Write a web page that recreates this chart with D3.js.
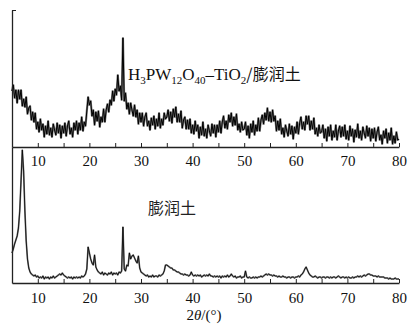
<!DOCTYPE html>
<html><head><meta charset="utf-8">
<script src="https://cdn.jsdelivr.net/npm/d3@7"></script>
<style>body{margin:0;background:#fff}svg{display:block}</style>
</head><body>
<svg id="chart" width="408" height="334"></svg>
<script>
// 2θ sampling (degrees)
const angleStart = 5, angleEnd = 80, angleStep = 0.25;
// H3PW12O40-TiO2/膨润土 intensities (a.u.), 5°..80° step 0.25°
const compositeIntensity = [
 56,62,49,57,44,57,48,57,41,48,40,50,33,39,41,27,35,25,34,18,
 25,15,28,17,23,10,21,13,26,12,19,10,23,17,12,24,14,22,9,21,
 14,24,11,21,26,13,19,10,24,17,26,13,24,17,30,16,25,21,36,50,
 42,46,31,37,22,35,26,36,20,30,25,38,25,37,43,35,47,42,56,46,
 58,52,72,56,61,47,109,46,54,38,44,33,44,37,31,42,30,37,23,34,
 25,34,21,30,34,21,26,17,29,22,31,18,28,21,34,19,28,22,34,28,
 30,37,26,35,24,38,30,40,25,33,25,36,19,27,30,18,27,18,28,14,
 22,13,26,16,22,9,20,12,25,11,18,9,22,16,11,23,14,22,10,22,
 15,26,14,25,31,19,26,18,32,25,34,21,30,22,33,17,23,15,25,17,
 18,25,12,21,9,23,15,26,12,22,16,29,16,27,32,23,34,27,39,26,
 35,25,37,26,31,16,26,17,28,13,19,10,22,16,11,23,13,21,8,20,
 14,25,13,24,30,18,25,17,31,23,31,17,26,18,29,13,19,11,22,14,
 15,22,9,18,6,20,11,22,7,16,10,22,7,16,21,10,20,11,22,8,
 16,7,21,11,18,5,17,10,23,9,16,7,20,14,9,21,11,19,6,18,
 9,19,6,15,20,7,12,3,16,9,18,4,14,7,19,3,11,4,15,7,
 8
];
// 膨润土 intensities (a.u.), 5°..80° step 0.25°
const bentoniteIntensity = [
 30,34,39,43,47,55,72,102,133,112,72,42,24,15,11,9,8,7,8,6,
 7,5,6,5,7,4,6,5,6,4,6,5,7,5,6,7,8,9,8,10,
 8,7,6,5,6,5,6,4,6,5,6,5,6,5,7,6,7,9,14,36,
 30,24,20,18,28,16,13,11,10,9,11,8,10,9,8,10,9,11,8,10,
 9,10,8,11,10,12,56,14,12,18,17,30,24,27,28,25,22,20,27,15,
 11,10,9,8,7,8,6,7,6,8,6,7,7,6,8,7,8,9,12,18,
 18,17,16,15,15,13,13,12,11,11,10,9,9,8,9,8,8,7,8,11,
 8,7,8,7,8,7,8,6,7,8,7,8,7,9,7,7,6,7,6,7,
 6,7,5,7,6,7,6,8,6,7,9,7,6,7,5,6,6,7,5,6,
 6,12,6,5,6,5,5,6,5,6,5,6,6,7,6,7,8,9,8,9,
 8,8,7,8,7,7,6,7,6,6,7,6,6,5,6,6,5,6,6,5,
 6,6,7,6,8,9,11,14,16,13,10,8,7,6,6,7,6,5,6,6,
 5,6,6,5,6,6,5,6,5,6,6,5,6,7,6,5,6,6,5,6,
 5,6,5,5,6,5,6,6,7,6,7,6,7,8,7,8,9,9,8,8,
 7,7,7,6,7,6,6,6,6,5,5,5,4,5,4,4,4,5,4,4,
 4
];
const majorTicks = [10,20,30,40,50,60,70,80];
const allTicks = [10,15,20,25,30,35,40,45,50,55,60,65,70,75,80];
const compositeLabel = ["H","3","PW","12","O","40","–TiO","2","/膨润土"];
const bentoniteLabel = "膨润土";
const xTitle = ["2","θ","/(°)"];

const svg = d3.select("#chart");
const x = d3.scaleLinear([angleStart, angleEnd], [12, 399]);
const yTop = d3.scaleLinear([0, 137], [147, 10]);
const yBot = d3.scaleLinear([0, 136], [283, 147]);
const angles = d3.range(compositeIntensity.length).map(i => angleStart + i * angleStep);

const serif = "'Liberation Serif','Times New Roman',serif";
const cjk = "'Noto Sans CJK SC','Noto Sans CJK JP',sans-serif";

function drawSeries(vals, y, wGrey, wBlack) {
  const line = d3.line().x((d,i)=>x(angles[i])).y(d=>y(d));
  svg.append("path").datum(vals).attr("d", line)
    .attr("fill","none").attr("stroke","#7a7a7a").attr("stroke-width",wGrey).attr("stroke-linejoin","round");
  svg.append("path").datum(vals).attr("d", line)
    .attr("fill","none").attr("stroke","#000").attr("stroke-width",wBlack).attr("stroke-linejoin","round");
}
drawSeries(compositeIntensity, yTop, 2.2, 1);
drawSeries(bentoniteIntensity, yBot, 1.7, 0.8);

function bottomAxis(yPos, pad) {
  const g = svg.append("g").attr("transform",`translate(0,${yPos})`)
    .call(d3.axisBottom(x).tickValues(allTicks).tickSizeInner(-4).tickSizeOuter(0).tickPadding(pad)
      .tickFormat(d => majorTicks.includes(d) ? d : ""));
  g.attr("font-family", null).attr("font-size", null);
  g.select(".domain").attr("stroke","#222").attr("stroke-width",1.3);
  g.selectAll(".tick line").attr("stroke","#222").attr("stroke-width",1);
  g.selectAll("text").style("font-family",serif).style("font-size","15px").attr("fill","#111");
}
bottomAxis(yTop(0), 8);
bottomAxis(yBot(0), 9);

// left axes
const gl1 = svg.append("g").attr("transform",`translate(${x(angleStart)},0)`)
  .call(d3.axisLeft(yTop).tickValues([137]).tickSizeInner(-4).tickSizeOuter(0).tickFormat(""));
const gl2 = svg.append("g").attr("transform",`translate(${x(angleStart)},0)`)
  .call(d3.axisLeft(yBot).tickValues([]).tickSizeOuter(0));
[gl1, gl2].forEach(g => {
  g.select(".domain").attr("stroke","#222").attr("stroke-width",1.3);
  g.selectAll(".tick line").attr("stroke","#222");
});

// series labels
const t1 = svg.append("text").attr("x",128).attr("y",80).style("font-family",serif).style("font-size","17px").attr("fill","#111");
compositeLabel.forEach((s,i) => {
  const sub = i % 2 === 1;
  const ts = t1.append("tspan").text(s);
  if (sub) ts.style("font-size","11px").attr("dy",4);
  else if (i>0) ts.attr("dy",-4);
  if (s.includes("膨")) ts.style("font-family",cjk).style("font-size","16px");
});
svg.append("text").attr("x",148).attr("y",214).style("font-family",cjk).style("font-size","16px").attr("fill","#222").text(bentoniteLabel);

// x title
const tt = svg.append("text").attr("x",204).attr("y",320).attr("text-anchor","middle")
  .style("font-family",serif).style("font-size","15px").attr("fill","#111");
tt.append("tspan").text(xTitle[0]);
tt.append("tspan").style("font-style","italic").text(xTitle[1]);
tt.append("tspan").text(xTitle[2]);
</script>
</body></html>
